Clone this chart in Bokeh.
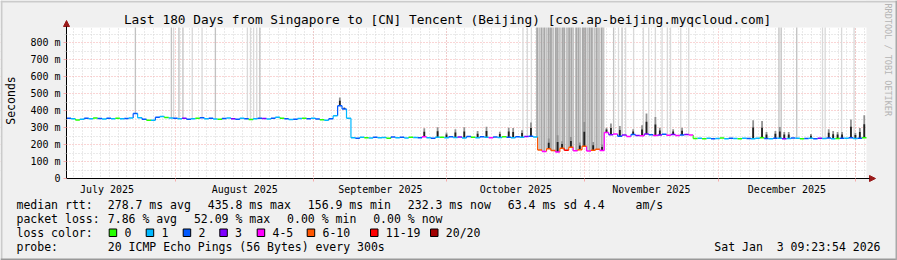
import math
from bokeh.plotting import figure
from bokeh.models import FixedTicker, Label, BoxAnnotation, Arrow, NormalHead, Range1d
from bokeh.embed import file_html
from bokeh.resources import INLINE

# ---------------- data ----------------
# x axis: days since 2025-08-01 00:00 ; window = last 180 days to Sat Jan 3 09:23:54 2026
X_START = -24.61
X_END = 155.39
Y_MAX = 891  # ms

# daily median rtt (ms), 180 days
median_r1 = [356, 352, 345, 350, 355, 353, 357, 354, 351, 356,
             353, 355, 352, 354, 357, 383, 358, 350, 344, 343,
             362, 366, 360, 357, 355, 352, 356, 350, 353, 355,
             358, 352, 356, 351, 349, 354, 357, 352, 350, 355,
             353, 348, 352, 356, 354, 351, 355, 362, 356, 352,
             348, 350, 354, 356, 352, 355, 351, 346, 344, 352,
             370, 430, 410, 356]
median_r2 = [240, 238, 243, 241, 239, 244, 240, 242, 238, 245,
             241, 243, 239, 244, 242, 240, 246, 241, 238, 244,
             243, 240, 247, 242, 245, 239, 248, 243, 241, 246,
             244, 240, 245, 242, 247, 243, 240, 246, 244, 248,
             250, 245]
median_r3 = [168, 160, 175, 165, 157, 178, 166, 185, 164, 170, 190, 163, 167, 172, 165]
median_r4 = [272, 258, 262, 250, 256, 248, 260, 254, 252, 262,
             258, 253, 257, 261, 255, 259, 254, 256, 260, 257]
median_r5 = [236, 238, 235, 237, 234, 236, 239, 235, 237, 236,
             234, 238, 236, 235, 237, 240, 236, 234, 238, 237,
             235, 236, 239, 237, 234, 236, 238, 235, 237, 236,
             239, 234, 236, 238, 237, 240, 236, 238, 240]
median = median_r1 + median_r2 + median_r3 + median_r4 + median_r5

# loss class per day (0:"0",1:"1",2:"2",3:"3",4:"4-5",5:"6-10",6:"11-19",7:"20/20")
loss = ([2, 1, 0, 1, 2, 1, 0, 2, 1, 2,
         1, 0, 1, 2, 1, 2, 1, 2, 0, 1,
         2, 1, 0, 1, 2, 1, 3, 2, 1, 0,
         2, 1, 2, 1, 0, 2, 1, 3, 2, 1,
         2, 0, 1, 2, 3, 1, 2, 1, 0, 2,
         1, 2, 1, 0, 2, 1, 2, 0, 1, 2,
         1, 2, 2, 1]
        + [1, 2, 1, 0, 1, 2, 1, 1, 0, 2,
           1, 2, 1, 0, 1, 2, 4, 1, 2, 1,
           0, 1, 2, 1, 3, 1, 2, 0, 1, 2,
           1, 4, 2, 1, 0, 2, 1, 2, 1, 3,
           2, 1]
        + [5, 4, 5, 5, 4, 5, 6, 5, 4, 5, 5, 4, 5, 5, 4]
        + [4, 3, 4, 2, 3, 4, 2, 3, 4, 3, 2, 4, 3, 2, 4, 3, 4, 2, 3, 4]
        + [0, 1, 0, 1, 2, 1, 0, 1, 2, 1,
           0, 1, 2, 1, 1, 0, 2, 1, 2, 1,
           3, 1, 2, 1, 0, 2, 1, 2, 3, 1,
           2, 1, 0, 2, 1, 2, 1, 2, 0])

loss_colors = ["#26ff00", "#00b8ff", "#0059ff", "#7e00ff", "#ff00ff", "#ff5500", "#ff0000", "#a10000"]
loss_names = ["0", "1", "2", "3", "4-5", "6-10", "11-19", "20/20"]

# smoke spikes (day index, top of smoke in ms)
spike_idx = [61, 62, 80, 83, 85, 87, 89, 92, 94, 97, 99, 100, 102, 104,
             108, 110, 111, 113, 115, 116, 118, 120,
             121, 122, 124, 127, 129, 130, 132, 133, 136, 138,
             154, 156, 157, 159, 160, 161, 162, 167, 171, 172, 173, 174, 176, 177, 178, 179]
spike_top = [478, 420, 296, 303, 272, 290, 303, 280, 305, 276, 300, 298, 285, 330,
             236, 255, 220, 245, 212, 334, 215, 200,
             300, 324, 310, 290, 314, 383, 363, 300, 290, 300,
             344, 340, 275, 281, 304, 275, 275, 262, 291, 280, 275, 275, 348, 270, 298, 373]

# smoke running off the top of the graph (position in days from window start, shade level)
tall_pos = [15.5, 23.6, 24.1, 25.3, 26.2, 28.3, 30.5, 33.5, 40.7, 41.4, 42.1, 42.8, 43.5,
            102.7, 103.7, 104.6,
            105.9, 106.4, 106.9, 107.5, 108.0, 108.5, 109.0, 109.5, 110.1, 110.5,
            111.0, 111.6, 112.0, 112.6, 113.1, 113.6, 114.0, 114.7, 115.2, 115.6,
            116.2, 116.7, 117.2, 117.7, 118.2, 118.8, 119.3, 119.8, 120.4, 120.8,
            123.1, 124.2, 125.0, 125.8, 127.6, 129.8, 131.0, 132.5, 134.0, 135.2, 135.9, 138.2, 140.0,
            160.3, 160.8, 164.3, 170.1, 170.7, 174.4, 177.2]
tall_level = [2, 2, 1, 2, 2, 1, 1, 2, 1, 1, 1, 1, 2,
              1, 1, 1,
              3, 2, 3, 3, 2, 3, 3, 2, 3, 3, 2, 3, 3, 2, 3, 3, 2, 3, 3, 2, 3, 3, 2, 3, 3, 2, 3, 2, 3, 2,
              2, 1, 2, 1, 1, 1, 1, 1, 1, 1, 1, 1, 1,
              2, 2, 2, 1, 1, 1, 1]
shade_colors = {1: "#d9d9d9", 2: "#c2c2c2", 3: "#a8a8a8"}

month_starts = [0, 31, 61, 92, 122, 153]
month_mids = [-15.5, 15.5, 46, 76.5, 107, 137.5]
month_labels = ["July 2025", "August 2025", "September 2025", "October 2025",
                "November 2025", "December 2025"]
x_minor = list(range(-23, 156, 2))
y_ticks = [0, 100, 200, 300, 400, 500, 600, 700, 800]
y_grid = [100, 200, 300, 400, 500, 600, 700, 800]
y_minor = [50, 150, 250, 350, 450, 550, 650, 750, 850]

title = "Last 180 Days from Singapore to [CN] Tencent (Beijing) [cos.ap-beijing.myqcloud.com]"
rtt_stats = ["278.7 ms avg", "435.8 ms max", "156.9 ms min", "232.3 ms now", "63.4 ms sd", "4.4", "am/s"]
loss_stats = ["7.86 % avg", "52.09 % max", "0.00 % min", "0.00 % now"]
probe_text = "20 ICMP Echo Pings (56 Bytes) every 300s"
stamp = "Sat Jan\u00a0\u00a03 09:23:54 2026"

assert len(median) == 180 and len(loss) == 180
assert len(spike_idx) == len(spike_top) and len(tall_pos) == len(tall_level)

# ---------------- layout: the frame covers the whole canvas ----------------
W, H = 897, 260
FL, FR, FT, FB = 66, 866, 27, 178   # plot area in canvas pixels
PX_PER_DAY = (FR - FL) / (X_END - X_START)
PX_PER_MS = (FB - FT) / Y_MAX
def xd(px):
    return X_START + (px - FL) / PX_PER_DAY
def yd(py):
    return (FB - py) / PX_PER_MS

MONO = "DejaVu Sans Mono"
BG = "#f0f0f0"
MAJ = "#f5aaaa"
MIN = "#d4d4d4"

p = figure(width=W, height=H, output_backend="svg", toolbar_location=None,
           x_range=Range1d(xd(0), xd(W)), y_range=Range1d(yd(H), yd(0)),
           min_border=0, min_border_left=0, min_border_right=0, min_border_top=0, min_border_bottom=0,
           background_fill_color="white", border_fill_color=BG)
p.outline_line_color = None

# grids
g = p.xgrid[0]
g.ticker = FixedTicker(ticks=month_starts, minor_ticks=x_minor)
g.grid_line_color = MAJ
g.grid_line_dash = "1 2"
g.minor_grid_line_color = MIN
g.minor_grid_line_dash = "1 2"
g = p.ygrid[0]
g.ticker = FixedTicker(ticks=y_grid, minor_ticks=y_minor)
g.grid_line_color = MAJ
g.grid_line_dash = "1 2"
g.minor_grid_line_color = MIN
g.minor_grid_line_dash = "1 2"

# grey page around the plot area (drawn under the data, over the grid)
for kw in [dict(bottom=Y_MAX), dict(top=0), dict(right=X_START), dict(left=X_END)]:
    p.add_layout(BoxAnnotation(fill_color=BG, fill_alpha=1, line_color=None, level="underlay", **kw))

# axes pinned to the plot area's edges
ax = p.xaxis[0]
ax.fixed_location = 0
ax.bounds = (X_START, xd(873))
ax.ticker = FixedTicker(ticks=month_mids, minor_ticks=month_starts)
ax.major_label_overrides = {m: l for m, l in zip(month_mids, month_labels)}
ax.major_tick_line_color = None
ax.major_tick_out = 0
ax.major_tick_in = 0
ax.minor_tick_line_color = MAJ
ax.minor_tick_out = 3
ax.minor_tick_in = 0
ax.major_label_standoff = 2
ax.major_label_text_font = MONO
ax.major_label_text_font_size = "10px"
ax.major_label_text_color = "black"
ax.axis_line_color = "black"

ay = p.yaxis[0]
ay.fixed_location = X_START
ay.bounds = (0, yd(22))
ay.ticker = FixedTicker(ticks=y_ticks, minor_ticks=y_minor)
ay.major_label_overrides = {v: ("0" if v == 0 else f"{v} m") for v in y_ticks}
ay.major_tick_out = 3
ay.major_tick_in = 0
ay.major_tick_line_color = MAJ
ay.minor_tick_out = 2
ay.minor_tick_in = 0
ay.minor_tick_line_color = MIN
ay.major_label_standoff = 3
ay.major_label_text_font = MONO
ay.major_label_text_font_size = "10px"
ay.major_label_text_color = "black"
ay.axis_line_color = "black"
ay.axis_label = "Seconds"
ay.axis_label_text_font = MONO
ay.axis_label_text_font_size = "11.5px"
ay.axis_label_text_font_style = "normal"
ay.axis_label_text_color = "black"
ay.axis_label_standoff = 9

# smoke that runs off the top
tx = [X_START + t for t in tall_pos]
tb = [median[int(t)] for t in tall_pos]
tw = [0.45 if 105 <= t <= 121 else 0.3 for t in tall_pos]
tc = [shade_colors[lv] for lv in tall_level]
p.vbar(x=tx, bottom=tb, top=[Y_MAX] * len(tx), width=tw, fill_color=tc, line_color=None)

# smoke spikes
spx = [X_START + i + 0.5 for i in spike_idx]
spb = [median[i] for i in spike_idx]
p.vbar(x=spx, bottom=spb, top=spike_top, width=0.4, fill_color="#909090", line_color=None)
smid = [b + 0.6 * (t - b) for b, t in zip(spb, spike_top)]
p.vbar(x=spx, bottom=spb, top=smid, width=0.4, fill_color="#202020", line_color=None)

# median line (step), coloured by loss
n = len(median)
hx0 = [X_START + i for i in range(n)]
hx1 = [X_START + i + 1 for i in range(n)]
cols = [loss_colors[c] for c in loss]
p.segment(x0=hx0[1:], y0=median[:-1], x1=hx0[1:], y1=median[1:], line_color=cols[1:], line_width=1.2)
p.segment(x0=hx0, y0=median, x1=hx1, y1=median, line_color=cols, line_width=1.5)

# axis arrows
ARC = "#9a1a1a"
p.add_layout(Arrow(end=NormalHead(size=6, fill_color=ARC, line_color=ARC, line_width=1),
                   x_start=X_START, y_start=yd(27), x_end=X_START, y_end=yd(20),
                   line_color="black", line_width=1))
p.add_layout(Arrow(end=NormalHead(size=6, fill_color=ARC, line_color=ARC, line_width=1),
                   x_start=xd(866), y_start=0, x_end=xd(875), y_end=0,
                   line_color="black", line_width=1))

def lab(text, px, py, size="11.5px", align="left", color="black", angle=0.0):
    p.add_layout(Label(x=xd(px), y=yd(py), text=text, text_font=MONO, text_font_size=size,
                       text_align=align, text_baseline="middle", text_color=color, angle=angle))

lab(title, 447, 19, size="12.8px", align="center")
lab("RRDTOOL / TOBI OETIKER", 887, 3, size="8.5px", color="#b4b4b4", angle=-math.pi / 2)

lab("median rtt:", 16, 204)
for t, px in zip(rtt_stats, [107.3, 207.3, 307.3, 407.3, 507.3, 583.3, 635]):
    lab(t, px, 204)
lab("packet loss:", 16, 218)
for t, px in zip(loss_stats, [107.3, 193.4, 286.6, 372.7]):
    lab(t, px, 218)
lab("loss color:", 16, 232)
box_x = [108.7, 145.7, 182.7, 219.3, 256.7, 306.7, 370, 430]
for name, bx in zip(loss_names, box_x):
    lab(name, bx + 15.3, 232)
p.quad(left=[xd(b) for b in box_x], right=[xd(b + 7.5) for b in box_x],
       top=[yd(228.5)] * 8, bottom=[yd(236)] * 8,
       fill_color=loss_colors, line_color="black", line_width=1)
lab("probe:", 16, 246)
lab(probe_text, 107.3, 246)
lab(stamp, 880, 246, align="right")

# page edges
for kw, c in [(dict(bottom=yd(2)), "#cbcbcb"), (dict(right=xd(2)), "#cbcbcb"),
              (dict(top=yd(H - 2)), "#999999"), (dict(left=xd(W - 2)), "#a8a8a8")]:
    p.add_layout(BoxAnnotation(fill_color=c, fill_alpha=1, line_color=None, **kw))

open("out.html", "w").write(file_html(p, INLINE))
